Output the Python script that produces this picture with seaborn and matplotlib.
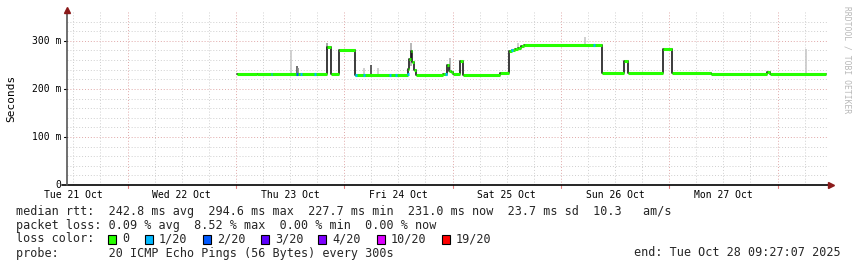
import matplotlib
matplotlib.use("Agg")
import matplotlib.pyplot as plt
import seaborn as sns
import numpy as np
import pandas as pd
from matplotlib.patches import Rectangle
from matplotlib.transforms import blended_transform_factory

sns.set_style("white")
plt.rcParams['font.family'] = ['DejaVu Sans Mono']

# ---------------- data (x in days since Tue 21 Oct 00:00) ----------------
step_t = [2.007, 2.194, 2.841, 2.878, 2.952, 3.099, 3.588, 3.602, 3.616, 3.630,
          3.644, 3.662, 3.912, 3.948, 3.967, 3.985, 4.004, 4.068, 4.096, 4.438,
          4.521, 4.549, 4.576, 4.604, 4.632, 4.659, 5.379, 5.582, 5.619, 5.942,
          6.030, 6.385, 6.903, 6.930, 7.447]
step_ms = [232, 230, 288, 230, 281, 228, 242, 262, 278, 255,
           240, 228, 232, 250, 238, 236, 232, 258, 228, 233,
           278, 280, 283, 286, 289, 292, 234, 257, 234, 283,
           234, 231, 235, 231, 231]

loss_t = [2.330, 2.564, 2.601, 2.730, 3.108, 3.182, 3.422, 3.478, 3.588, 3.939, 4.548, 5.306]
loss_ms = [231, 230, 230, 230, 228, 228, 228, 228, 230, 232, 281, 292]
loss_lvl = ["1/20", "2/20", "1/20", "1/20", "1/20", "1/20", "1/20", "1/20", "1/20", "1/20", "1/20", "1/20"]

smoke_t = [2.506, 2.564, 2.575, 2.84, 3.182, 3.247, 3.315, 3.62, 3.975, 4.600, 5.222, 7.260]
smoke_lo = [230, 230, 230, 280, 228, 228, 228, 248, 236, 283, 292, 231]
smoke_hi = [281, 248, 244, 295, 244, 250, 244, 295, 264, 296, 309, 283]
smoke_shade = ["#c8c8c8", "#555555", "#888888", "#999999", "#c8c8c8", "#444444",
               "#c8c8c8", "#aaaaaa", "#aaaaaa", "#c8c8c8", "#c8c8c8", "#c8c8c8"]

day_labels = ["Tue 21 Oct", "Wed 22 Oct", "Thu 23 Oct", "Fri 24 Oct",
              "Sat 25 Oct", "Sun 26 Oct", "Mon 27 Oct"]
y_ticks = [0, 100, 200, 300]
y_labels = ["0", "100 m", "200 m", "300 m"]

loss_names = ["0", "1/20", "2/20", "3/20", "4/20", "10/20", "19/20"]
loss_colors = ["#26ff00", "#00b8ff", "#0059ff", "#5e00ff", "#7e00ff", "#dd00ff", "#ff0000"]
loss_map = dict(zip(loss_names, loss_colors))

X0, X1 = 0.441, 7.466
Y0, Y1 = 0, 360

W, H = 857, 267
fig = plt.figure(figsize=(W / 100, H / 100), dpi=100)
fig.patch.set_facecolor("white")
L, R, T, B = 67, 828, 12, 185
ax = fig.add_axes([L / W, 1 - B / H, (R - L) / W, (B - T) / H])
ax.set_facecolor("white")
ax.set_xlim(X0, X1)
ax.set_ylim(Y0, Y1)
for s in ax.spines.values():
    s.set_visible(False)

# grid
minor_x = [d / 4 for d in range(2, 30) if d % 4 != 0]
major_x = list(range(1, 8))
for x in minor_x:
    ax.axvline(x, color="#cfcfcf", lw=0.7, ls=(0, (1, 2)), zorder=0)
for x in major_x:
    ax.axvline(x, color="#e0a8a8", lw=0.7, ls=(0, (1, 2)), zorder=0)
for y in range(20, 360, 20):
    if y % 100:
        ax.axhline(y, color="#cfcfcf", lw=0.7, ls=(0, (1, 2)), zorder=0)
for y in (100, 200, 300):
    ax.axhline(y, color="#e0a8a8", lw=0.7, ls=(0, (1, 2)), zorder=0)

ax.set_xticks([])
ax.set_yticks([])

# smoke
for t, lo, hi, c in zip(smoke_t, smoke_lo, smoke_hi, smoke_shade):
    ax.vlines(t, lo, hi, color=c, lw=1.2, zorder=2)

# median line (dark transitions)
df = pd.DataFrame({"t": step_t, "ms": step_ms})
sns.lineplot(data=df, x="t", y="ms", ax=ax, color="#1a1a1a", lw=1.2,
             drawstyle="steps-post", sort=False, zorder=3, legend=False)
# green horizontal segments (0 loss)
ax.hlines(step_ms[:-1], step_t[:-1], step_t[1:], color=loss_map["0"], lw=2.2, zorder=4)
# loss coloured bits
for t, v, lv in zip(loss_t, loss_ms, loss_lvl):
    ax.hlines(v, t - 0.008, t + 0.008, color=loss_map[lv], lw=2.2, zorder=5)

ax.set_xlabel("")
ax.set_ylabel("")

# axis lines with arrows
ax.plot([X0 - 5 / 108.33, X1 + 0.01], [0, 0], color="black", lw=1.2, clip_on=False, zorder=6)
ax.plot([X1 + 0.03], [0], marker=">", color="#8b1a1a", ms=4.5, clip_on=False, zorder=7)
ax.plot([X0, X0], [0, Y1 + 2], color="#555555", lw=1.2, clip_on=False, zorder=6)
ax.plot([X0], [Y1 + 4], marker="^", color="#8b1a1a", ms=4.5, clip_on=False, zorder=7)

# tick marks
for x in major_x:
    ax.plot([x, x], [0, -6], color="#e08080", lw=0.8, clip_on=False)
for y in (100, 200, 300):
    ax.plot([X0 - 3 / 108.33, X0], [y, y], color="black", lw=0.8, clip_on=False)

# tick labels
tr = blended_transform_factory(ax.transData, fig.transFigure)
for i, lab in enumerate(day_labels):
    ax.text(i + 0.5, 1 - 194.5 / H, lab, transform=tr, ha="center", va="center",
            fontsize=7, color="black")
tr2 = blended_transform_factory(fig.transFigure, ax.transData)
for y, lab in zip(y_ticks, y_labels):
    ax.text(61 / W, y, lab, transform=tr2, ha="right", va="center", fontsize=7, color="black")

fig.text(11 / W, 1 - 98 / H, "Seconds", rotation=90, ha="center", va="center",
         fontsize=8, color="black")
fig.text(847 / W, 1 - 60 / H, "RRDTOOL / TOBI OETIKER", rotation=270, ha="center",
         va="center", fontsize=5.8, color="#b8b8b8")

# legend rows
fs = 8.5
fig.text(16 / W, 1 - 211 / H,
         "median rtt:  242.8 ms avg  294.6 ms max  227.7 ms min  231.0 ms now  23.7 ms sd  10.3   am/s",
         ha="left", va="center", fontsize=fs)
fig.text(16 / W, 1 - 225 / H,
         "packet loss: 0.09 % avg  8.52 % max  0.00 % min  0.00 % now",
         ha="left", va="center", fontsize=fs)
fig.text(16 / W, 1 - 239 / H, "loss color:", ha="left", va="center", fontsize=fs)
sq_x = [108, 145, 203, 261, 318, 377, 442]
for sx, name, col in zip(sq_x, loss_names, loss_colors):
    fig.patches.append(Rectangle((sx / W, 1 - 243.5 / H), 8 / W, 9 / H, transform=fig.transFigure,
                                 facecolor=col, edgecolor="black", lw=0.8))
    fig.text((sx + 14) / W, 1 - 239 / H, name, ha="left", va="center", fontsize=fs)
fig.text(16 / W, 1 - 253 / H, "probe:       20 ICMP Echo Pings (56 Bytes) every 300s",
         ha="left", va="center", fontsize=fs)
fig.text(841 / W, 1 - 253 / H, "end: Tue Oct 28 09:27:07 2025", ha="right", va="center", fontsize=fs)

fig.savefig("out.png", dpi=100, facecolor="white")
